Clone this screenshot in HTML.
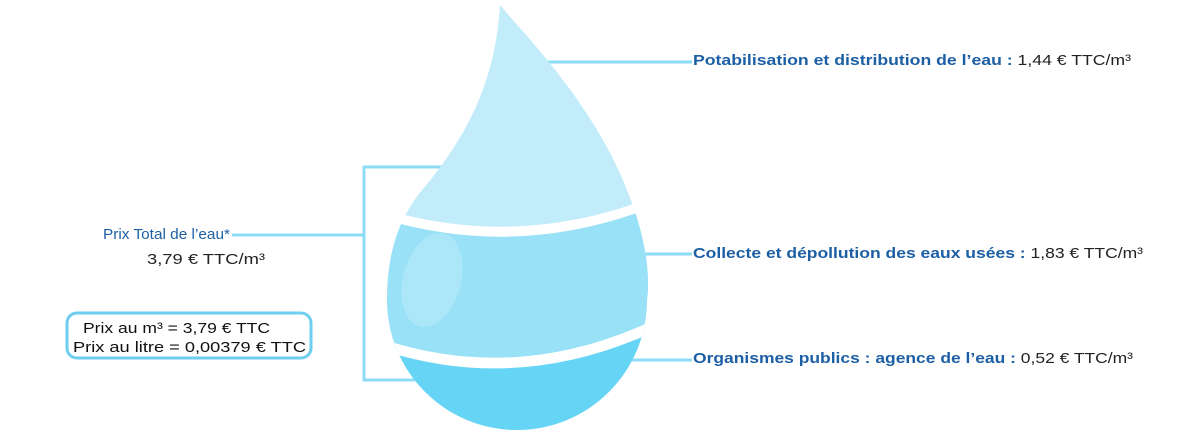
<!DOCTYPE html>
<html><head><meta charset="utf-8"><style>html,body{margin:0;padding:0;background:#fff;}svg{display:block}</style></head>
<body>
<svg width="1200" height="441" viewBox="0 0 1200 441" xmlns="http://www.w3.org/2000/svg" font-family="Liberation Sans, sans-serif">
<defs>
<clipPath id="drop"><path d="M500,5 C525,35 590,100 625,185 C648,240 650,280 647,300 A130,130 0 0 1 387,300 C387,255 398,222 418,195 C465,140 495,85 500,5 Z"/></clipPath>
</defs>
<!-- connector lines -->
<g stroke="#8ddcf6" stroke-width="3" fill="none">
<line x1="540" y1="62" x2="692" y2="62"/>
<line x1="640" y1="254" x2="692" y2="254"/>
<line x1="625" y1="360" x2="692" y2="360"/>
<polyline points="450,167 364,167 364,380 420,380"/>
<line x1="232" y1="235" x2="364" y2="235"/>
</g>
<g clip-path="url(#drop)">
<rect x="380" y="0" width="280" height="441" fill="#c3ecfa"/>
<path d="M370,205 Q520,255 670,190 L670,441 L370,441 Z" fill="#fff"/>
<path d="M370,215 Q520,265 670,200 L670,441 L370,441 Z" fill="#98e1f7"/>
<path d="M370,335 Q520,390 670,312 L670,441 L370,441 Z" fill="#fff"/>
<path d="M370,346 Q520,400 670,324 L670,441 L370,441 Z" fill="#66d5f5"/>
<ellipse cx="432" cy="280" rx="29" ry="48" transform="rotate(15 432 280)" fill="#b3e9f9" opacity="0.7"/>
</g>
<!-- right labels -->
<g font-size="15">
<text x="693" y="65" textLength="438" lengthAdjust="spacingAndGlyphs"><tspan fill="#1d5fa5" font-weight="bold">Potabilisation et distribution de l’eau : </tspan><tspan fill="#222">1,44 € TTC/m³</tspan></text>
<text x="693" y="258" textLength="450" lengthAdjust="spacingAndGlyphs"><tspan fill="#1d5fa5" font-weight="bold">Collecte et dépollution des eaux usées : </tspan><tspan fill="#222">1,83 € TTC/m³</tspan></text>
<text x="693" y="363" textLength="440" lengthAdjust="spacingAndGlyphs"><tspan fill="#1d5fa5" font-weight="bold">Organismes publics : agence de l’eau : </tspan><tspan fill="#222">0,52 € TTC/m³</tspan></text>
<text x="103" y="239" fill="#1d5fa5" textLength="127" lengthAdjust="spacingAndGlyphs">Prix Total de l’eau*</text>
<text x="147" y="264" fill="#222" textLength="118" lengthAdjust="spacingAndGlyphs">3,79 € TTC/m³</text>
</g>
<rect x="67" y="313" width="244" height="45" rx="10" fill="#fff" stroke="#6fcef0" stroke-width="3"/>
<g font-size="15" fill="#111">
<text x="83" y="333" textLength="187" lengthAdjust="spacingAndGlyphs">Prix au m³ = 3,79 € TTC</text>
<text x="73" y="352" textLength="233" lengthAdjust="spacingAndGlyphs">Prix au litre = 0,00379 € TTC</text>
</g>
</svg>
</body></html>
